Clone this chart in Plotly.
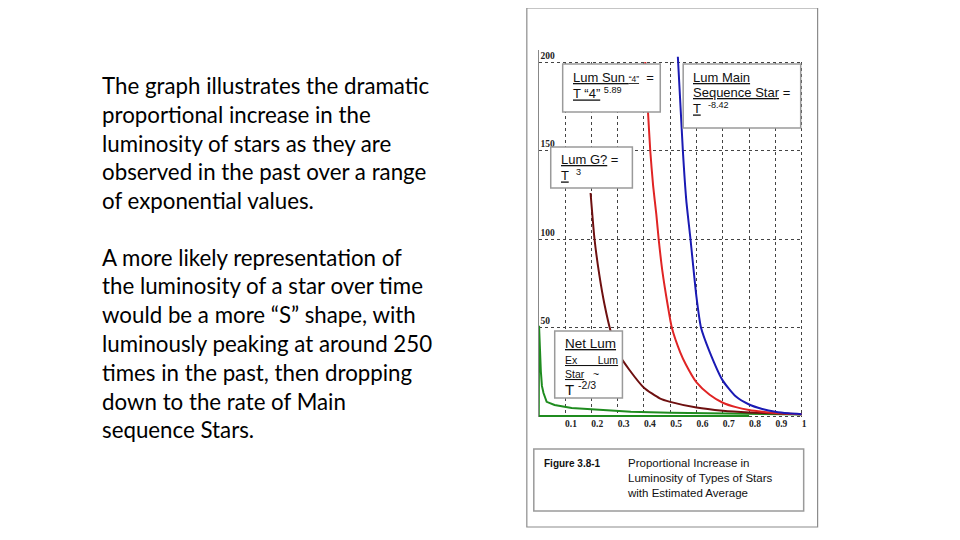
import plotly.graph_objects as go

W, H = 960, 540
OFF_X, OFF_Y = 4, 8  # the page puts the figure a few pixels in; positions below are screen positions

# curves (x = fraction of T, y = relative luminosity)
blue_x = [0.529, 0.548, 0.561, 0.577, 0.6, 0.617, 0.648, 0.7, 0.75, 0.8, 0.85, 0.9, 0.95, 1.0]
blue_y = [203, 150, 122, 100, 67, 50, 37, 20, 11, 6.5, 4.0, 2.4, 1.5, 1.0]

red_x = [0.405, 0.415, 0.424, 0.435, 0.447, 0.456, 0.47, 0.49, 0.506, 0.538, 0.56, 0.6, 0.65,
         0.7, 0.75, 0.8, 0.85, 0.9, 0.95, 1.0]
red_y = [200, 173, 150, 130, 114, 100, 82, 63, 50, 36, 29, 19, 12, 7.5, 5.0, 3.4, 2.4, 1.7,
         1.3, 1.0]

maroon_x = [0.197, 0.212, 0.23, 0.25, 0.275, 0.3, 0.345, 0.4, 0.46, 0.5, 0.6, 0.7, 0.8, 0.9, 1.0]
maroon_y = [126, 100, 80, 63, 47, 36, 26, 16, 10, 8.0, 4.8, 3.0, 2.0, 1.4, 1.0]

# green runs along the bottom, up the left edge, then down the curve
green_x = [0.8, 0.0, 0.0, 0.001, 0.004, 0.008, 0.012, 0.018, 0.03, 0.06, 0.125, 0.227, 0.35,
           0.5, 0.6, 0.7, 0.8, 0.9, 1.0]
green_y = [0, 0, 0, 51, 35, 25, 17, 13, 8, 6.2, 4.5, 3.4, 2.4, 1.9, 1.6, 1.4, 1.2, 1.0, 0.8]

x_ticks = [0, 0.1, 0.2, 0.3, 0.4, 0.5, 0.6, 0.7, 0.8, 0.9, 1.0]
x_labels = ["", "0.1", "0.2", "0.3", "0.4", "0.5", "0.6", "0.7", "0.8", "0.9", "1"]
y_ticks = [0, 50, 100, 150, 200]
y_labels = ["", "50", "100", "150", "200"]

para1 = ["The graph illustrates the dramatic",
         "proportional increase in the",
         "luminosity of stars as they are",
         "observed in the past over a range",
         "of exponential values."]
para2 = ["A more likely representation of",
         "the luminosity of a star over time",
         "would be a more \u201cS\u201d shape, with",
         "luminously peaking at around 250",
         "times in the past, then dropping",
         "down to the rate of Main",
         "sequence Stars."]

Y_TOP = 207      # a little headroom so the 200 line and its label are drawn
Y_BOT = -0.8
X_END = 1.004
PX_PER_Y = 1.77  # 0 at y=416, 200 at y=62
PX_PER_X = 264


def px(x):
    return (x - OFF_X) / W


def py(y):
    return 1 - (y - OFF_Y) / H


fig = go.Figure()

for xs, ys, col, shape in [(green_x, green_y, "#1f8c1f", "linear"),
                           (maroon_x, maroon_y, "#6e1010", "spline"),
                           (red_x, red_y, "#e02424", "spline"),
                           (blue_x, blue_y, "#1a1ab4", "spline")]:
    fig.add_trace(go.Scatter(x=xs, y=ys, mode="lines",
                             line=dict(color=col, width=2, shape=shape, smoothing=0.6),
                             showlegend=False, hoverinfo="skip"))

tick_font = dict(family="Liberation Serif", size=9.5, color="#222", weight="bold")

fig.update_xaxes(range=[0, X_END], domain=[px(537), px(537 + X_END * PX_PER_X)],
                 tickvals=x_ticks, ticktext=x_labels, ticks="",
                 ticklabelposition="outside right", ticklabelstandoff=-1,
                 showgrid=True, gridcolor="#444", griddash="dot", gridwidth=1,
                 zeroline=False, showline=False, tickfont=tick_font)
fig.update_yaxes(range=[Y_BOT, Y_TOP],
                 domain=[py(416 - Y_BOT * PX_PER_Y), py(416 - Y_TOP * PX_PER_Y)],
                 tickvals=y_ticks, ticktext=y_labels, ticks="",
                 ticklabelposition="inside top",
                 showgrid=True, gridcolor="#444", griddash="dot", gridwidth=1,
                 zeroline=False, showline=True, linecolor="#888", linewidth=1,
                 tickfont=tick_font)

shapes = []
# hide the vertical grid above the 200 line
shapes.append(dict(type="rect", xref="x", yref="y", layer="between",
                   x0=0.002, x1=X_END, y0=200.6, y1=Y_TOP,
                   line=dict(width=0), fillcolor="white"))
# outer picture frame
shapes.append(dict(type="rect", xref="paper", yref="paper", layer="below",
                   x0=px(525), x1=px(817), y0=py(527), y1=py(8),
                   line=dict(color="#8c8c8c", width=1.2), fillcolor="rgba(0,0,0,0)"))
# label boxes
for x0, y0, x1, y1 in [(561, 64, 659, 112), (682, 64, 800, 128), (549, 147, 631, 188),
                       (553, 331, 621, 398), (532, 449, 803, 511)]:
    shapes.append(dict(type="rect", xref="paper", yref="paper", layer="above",
                       x0=px(x0), x1=px(x1), y0=py(y1), y1=py(y0),
                       line=dict(color="#9a9a9a", width=1.5), fillcolor="white"))

annotations = []


def note(text, x, y, size, family="Liberation Sans", color="#111", weight="normal"):
    annotations.append(dict(text=text, x=px(x), y=py(y), xref="paper", yref="paper",
                            xanchor="left", yanchor="middle", showarrow=False, align="left",
                            font=dict(family=family, size=size, color=color, weight=weight)))


for i, line in enumerate(para1):
    note(line, 96, 86 + i * 28.6, 22.3, family="Lato", color="#000")
for i, line in enumerate(para2):
    note(line, 96, 257 + i * 28.8, 22.3, family="Lato", color="#000")

# box 1
note("<u>Lum Sun <span style='font-size:8.5px'>\u201c4\u201d</span></u>  =", 569, 77, 13)
note("<u>T \u201c4\u201d</u> <sup>5.89</sup>", 569, 93, 13)
# box 2
note("<u>Lum Main</u>", 690, 77, 13)
note("<u>Sequence Star</u> =", 690, 92, 13)
note("<u>T</u>  <sup>-8.42</sup>", 690, 108, 13)
# box 3
note("<u>Lum G?</u> =", 557, 160, 13)
note("<u>T</u>  <sup>3</sup>", 557, 175, 13)
# box 4
note("<u>Net Lum</u>", 561, 343, 13.5)
note("<u>Ex       Lum</u>", 561, 360, 10.5)
note("<u>Star</u>   ~", 561, 374, 10.5)
note("T <sup>-2/3</sup>", 561, 388, 15)
# caption
note("Figure 3.8-1", 540, 463, 10, weight="bold")
annotations.append(dict(text="Proportional Increase in<br>Luminosity of Types of Stars<br>with Estimated Average",
                        x=px(624), y=py(455), xref="paper", yref="paper",
                        xanchor="left", yanchor="top", showarrow=False, align="left",
                        font=dict(family="Liberation Sans", size=11.5, color="#111")))

fig.update_layout(width=W, height=H, margin=dict(l=0, r=0, t=0, b=0),
                  paper_bgcolor="white", plot_bgcolor="white",
                  shapes=shapes, annotations=annotations, showlegend=False)

fig.write_html("out.html")
